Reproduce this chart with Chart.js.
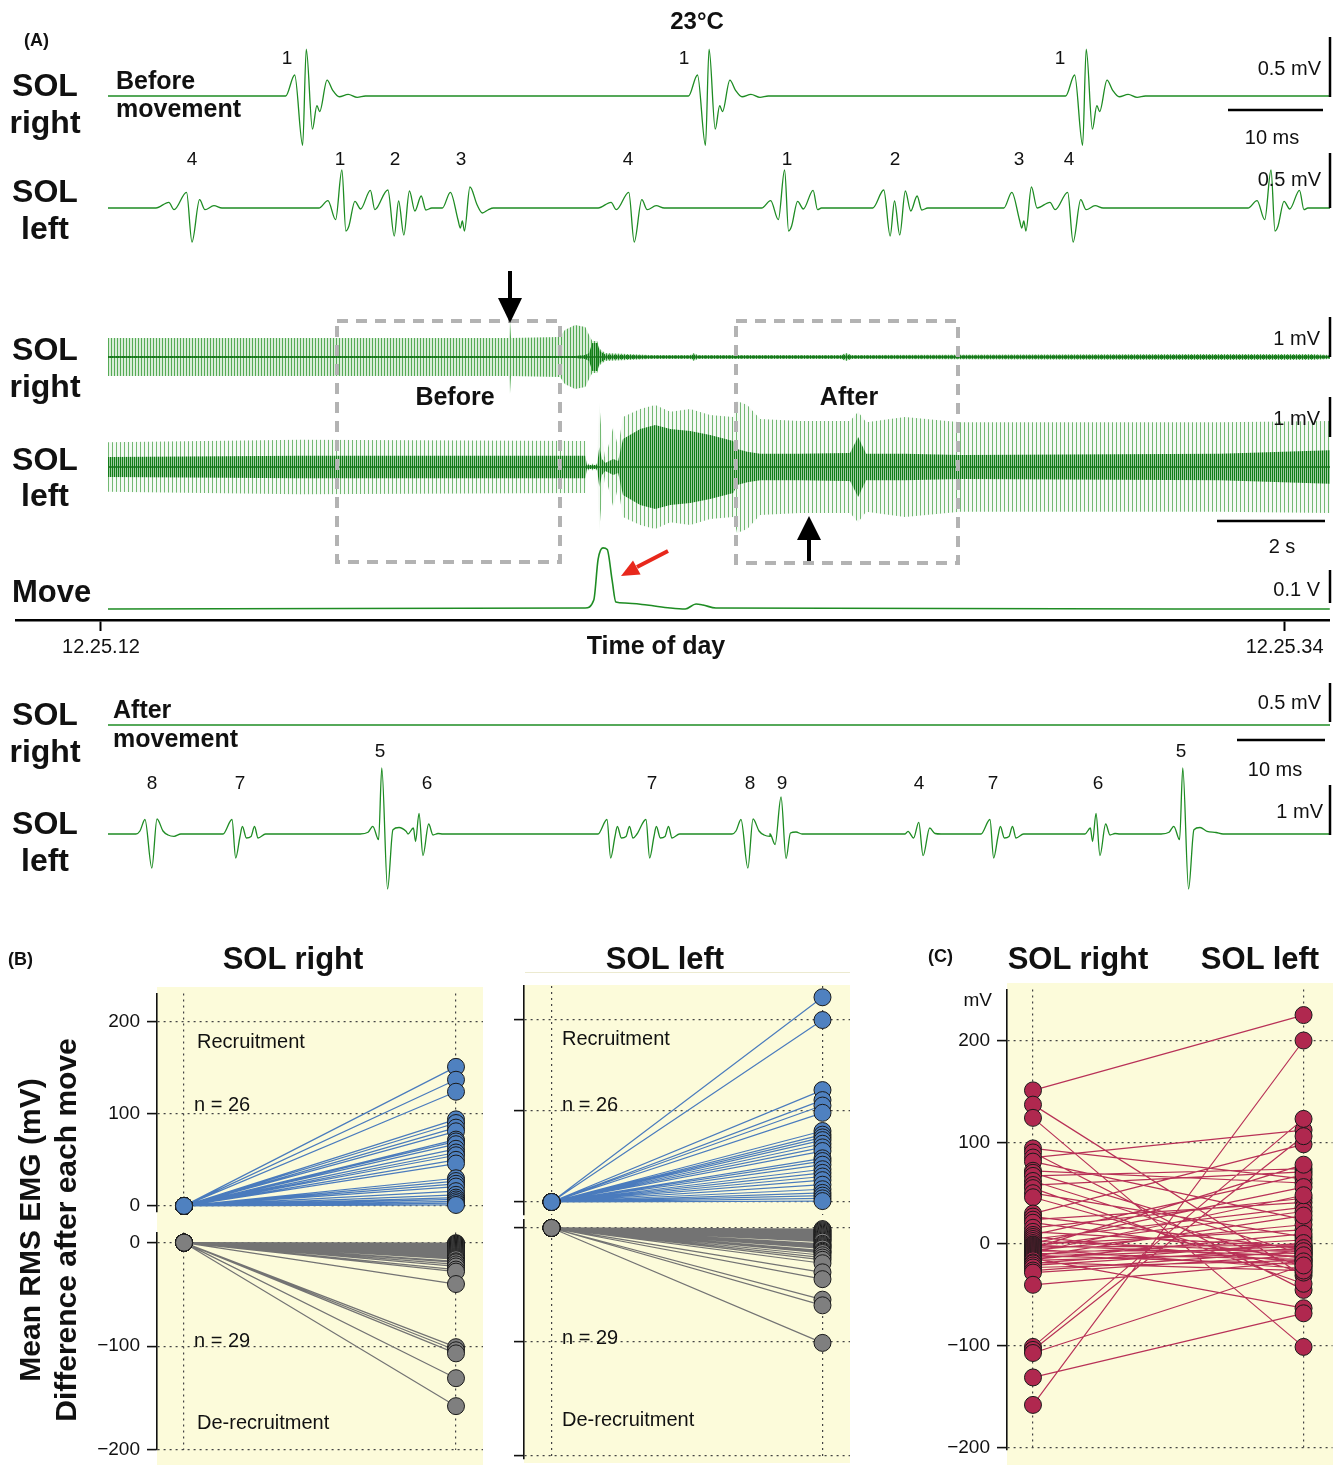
<!DOCTYPE html>
<html>
<head>
<meta charset="utf-8">
<script src="https://cdn.jsdelivr.net/npm/chart.js@4.4.1/dist/chart.umd.min.js"></script>
<style>
  html, body { margin: 0; padding: 0; background: #fff; overflow: hidden; }
  #page { position: relative; width: 1342px; height: 1469px; font-family: "Liberation Sans", Arial, sans-serif; color: #111; }
  #page canvas { position: absolute; }
  .lbl { position: absolute; white-space: nowrap; line-height: 1; z-index: 6; }
  .bg { position: absolute; background: #fcfbda; }
  svg { position: absolute; left: 0; top: 0; z-index: 5; }
</style>
</head>
<body>
<div id="page">
  <div class="bg" style="left:157px;top:987px;width:326px;height:478px"></div>
  <div class="bg" style="left:524px;top:985px;width:326px;height:478px"></div>
  <div class="bg" style="left:1007px;top:983px;width:326px;height:482px"></div>
  <div style="position:absolute;left:525px;top:972px;width:325px;height:1px;background:#ecead0"></div>
  <svg width="1342" height="1469">
    <g fill="none" stroke="#b3b3b3" stroke-width="4" stroke-dasharray="11 8">
      <rect x="337" y="321" width="223" height="241"/>
      <rect x="736" y="321" width="222" height="242"/>
    </g>
    <line x1="510" y1="271" x2="510" y2="302" stroke="#000" stroke-width="4"/>
    <polygon points="498,298 522,298 510,323" fill="#000"/>
    <line x1="809" y1="561" x2="809" y2="536" stroke="#000" stroke-width="4"/>
    <polygon points="797,540 821,540 809,516" fill="#000"/>
    <line x1="668" y1="551" x2="637" y2="567" stroke="#e8281c" stroke-width="4"/>
    <polygon points="621,576 640.6,574.4 633,560.4" fill="#e8281c"/>
    <g stroke="#000" stroke-width="2.5">
      <line x1="1330" y1="37" x2="1330" y2="97"/>
      <line x1="1228" y1="110" x2="1323" y2="110"/>
      <line x1="1330" y1="153" x2="1330" y2="208"/>
      <line x1="1330" y1="317" x2="1330" y2="357"/>
      <line x1="1330" y1="397" x2="1330" y2="437"/>
      <line x1="1217" y1="521" x2="1325" y2="521"/>
      <line x1="1330" y1="570" x2="1330" y2="603"/>
      <line x1="1330" y1="683" x2="1330" y2="722"/>
      <line x1="1237" y1="740" x2="1325" y2="740"/>
      <line x1="1330" y1="785" x2="1330" y2="835"/>
    </g>
  </svg>
</div>
<script>
// ---- Panel A: unit waveforms, [ms after onset, mV] ----
const beforeRightUnit1 = [[0,0],[0.95,0.175],[1.79,-0.41],[2.17,0.39],[2.82,-0.275],[3.29,-0.08],[3.58,-0.13],[4.36,0.133],[4.94,0.05],[5.64,-0.006],[6.58,0.014],[7.53,-0.011],[8.4,0]];
const beforeRightFirings = [[18.7,1],[61.1,1],[100.8,1]];

const beforeLeftUnit1 = [[0,0],[0.95,0.073],[1.76,-0.117],[2.42,0.38],[2.84,-0.23],[3.16,-0.18],[3.79,0.067],[4.39,-0.01],[5.42,0.177],[5.89,-0.017],[6.3,0]];
const beforeLeftUnit2 = [[0,0],[1.16,0.18],[1.83,-0.28],[2.29,0.07],[2.84,-0.27],[3.43,0.17],[4.0,-0.03],[4.67,0.12],[5.16,-0.02],[5.79,0]];
const beforeLeftUnit3 = [[0,0],[0.84,0.157],[1.64,-0.117],[1.89,-0.2],[2.1,-0.13],[2.32,-0.23],[2.9,0.21],[3.66,0.03],[4.21,-0.05],[4.79,-0.02],[5.37,0]];
const beforeLeftUnit4 = [[0,0],[1.35,0.057],[1.9,-0.017],[3.22,0.157],[3.79,-0.34],[4.59,0.083],[5.16,-0.017],[6.1,0.023],[6.95,0]];
const beforeLeftFirings = [[5.05,4],[22.2,1],[28.3,2],[35.2,3],[51.6,4],[68.8,1],[80.5,2],[94.3,3],[97.8,4],[120.0,1]];

const afterLeftUnit4 = [[0,0],[0.34,0.054],[0.97,-0.08],[1.56,0.234],[2.05,-0.434],[2.8,0.12],[3.41,0.01],[4.09,0]];
const afterLeftUnit5 = [[0,0],[0.91,0.034],[1.45,0.154],[2.11,-0.114],[2.47,1.32],[3.13,-1.1],[3.74,0.086],[4.43,0.13],[5.23,0.054],[6.25,0.03],[7.05,0]];
const afterLeftUnit6 = [[0,0],[0.61,0.12],[0.86,-0.15],[1.25,0.41],[1.7,-0.43],[2.35,0.2],[2.84,-0.02],[3.41,0.01],[3.98,0]];
const afterLeftUnit7 = [[0,0],[1.02,0.29],[1.44,-0.48],[1.93,-0.05],[2.2,0.15],[2.66,-0.08],[3.18,-0.05],[3.58,0.15],[3.98,-0.08],[4.84,0]];
const afterLeftUnit8 = [[0,0],[0.45,0.06],[1.02,0.29],[1.8,-0.68],[2.39,0.3],[3.07,0.06],[3.64,-0.02],[4.32,-0.046],[5.1,0]];
const afterLeftUnit9 = [[0,0],[0.57,-0.21],[1.25,0.74],[1.82,-0.49],[2.32,0.02],[2.95,0.04],[3.64,0]];
const afterLeftFirings = [[3.18,8],[13.07,7],[28.64,5],[34.09,6],[55.68,7],[60.11,7],[70.91,8],[75.23,9],[90.57,4],[99.2,7],[111.02,6],[119.66,5]];
const afterRightFirings = [];

// ---- Panel A: 22 s recording, envelope of the EMG (s, mV) ----
const denseRightTimes = [0.13,3.70,7.51,7.58,7.60,7.62,8.53,8.62,8.81,9.00,9.07,9.13,9.22,9.27,9.37,10.20,10.95,11.02,11.09,13.74,13.85,13.96,20.61,22.51,22.84];
const denseRightSpikes = [0.38,0.38,0.38,0.38,0.74,0.38,0.40,0.54,0.64,0.60,0.44,0.32,0.32,0.16,0.08,0.04,0.04,0.08,0.04,0.04,0.08,0.04,0.06,0.06,0.04];
const denseRightCore = [0.02,0.02,0.02,0.02,0.02,0.02,0.02,0.02,0.02,0.04,0.08,0.28,0.28,0.12,0.05,0.03,0.03,0.05,0.03,0.03,0.05,0.03,0.04,0.04,0.03];

const denseLeftTimes = [0.13,3.70,9.00,9.03,9.22,9.26,9.31,9.37,9.52,9.61,9.70,10.02,10.30,10.58,10.95,11.32,11.75,11.82,12.01,12.25,12.99,13.92,14.07,14.22,14.94,15.97,20.80,22.84];
const denseLeftSpikes = [0.62,0.68,0.65,0.08,0.08,1.60,0.75,0.20,1.00,0.50,1.25,1.45,1.55,1.38,1.45,1.30,1.25,1.65,1.55,1.20,1.15,1.15,1.38,1.12,1.25,1.12,1.12,1.15];
const denseLeftCore = [0.25,0.28,0.28,0.05,0.05,0.50,0.20,0.10,0.20,0.15,0.70,0.95,1.05,0.95,0.90,0.80,0.65,0.45,0.38,0.33,0.33,0.35,0.75,0.33,0.33,0.30,0.33,0.42];

const moveTimes = [0.13,9.00,9.16,9.24,9.33,9.41,9.50,9.57,9.74,10.15,10.58,10.86,11.06,11.19,11.43,22.84];
const moveVolts = [0,0.003,0.027,0.15,0.185,0.18,0.088,0.021,0.018,0.012,0.003,0,0.015,0.012,0.003,0];
const timeTickValues = [0, 22];
const timeTickLabels = ['12.25.12', '12.25.34'];

// ---- Panel B / C: mean RMS EMG difference (mV) ----
const bRightUp = [151,137,124,94,90,85,81,72,70,67,62,58,55,50,46,30,27,24,21,16,12,9,7,5,3,1];
const bRightDown = [-0.5,-1,-2,-3,-4,-5,-6,-7,-8,-9,-10,-11,-12,-13,-14,-15,-16,-18,-19,-21,-23,-26,-28,-40,-101,-104,-107,-131,-158];
const bLeftUp = [225,200,123,112,106,98,78,74,71,68,64,60,56,48,45,41,36,32,28,24,19,14,10,7,4,1];
const bLeftDown = [-1,-2,-3,-4,-5,-6,-7,-8,-9,-10,-11,-12,-14,-15,-16,-17,-18,-20,-21,-22,-24,-26,-28,-31,-39,-45,-63,-68,-101];
const cSolRight = [151,137,124,94,90,85,81,72,70,67,62,58,55,50,46,30,27,24,21,16,12,9,7,5,3,1,-0.5,-1,-2,-3,-4,-5,-6,-7,-8,-9,-10,-11,-12,-13,-14,-15,-16,-18,-19,-21,-23,-26,-28,-40,-101,-104,-107,-131,-158];
const cSolLeft = [225,-31,-101,64,-45,112,24,60,-10,74,-22,71,-39,7,-28,98,-5,41,-14,45,-3,68,-18,36,-8,56,14,-12,32,-1,78,-24,19,-6,48,-15,4,-20,28,-2,-63,10,-9,-26,1,-4,-16,-7,-11,-17,123,106,-21,-68,200];
const upTicks = [0, 100, 200];
const downTicks = [0, -100, -200];
const cTicks = [-200, -100, 0, 100, 200];
const columnTicks = [0, 1];

const GREEN = '#1e8c23';
const page = document.getElementById('page');
Chart.defaults.font.family = '"Liberation Sans", Arial, sans-serif';
Chart.defaults.color = '#111';

function makeCanvas(left, top, w, h) {
  const c = document.createElement('canvas');
  c.width = w; c.height = h;
  c.style.left = left + 'px'; c.style.top = top + 'px';
  c.style.width = w + 'px'; c.style.height = h + 'px';
  page.appendChild(c);
  return c.getContext('2d');
}

function label(text, x, y, size, opts = {}) {
  const d = document.createElement('div');
  d.className = 'lbl';
  d.textContent = text;
  d.style.left = x + 'px';
  d.style.top = y + 'px';
  d.style.fontSize = size + 'px';
  if (opts.bold) d.style.fontWeight = 'bold';
  const ax = opts.align === 'center' ? '-50%' : opts.align === 'right' ? '-100%' : '0';
  d.style.transform = 'translate(' + ax + ', -50%)' + (opts.rotate ? ' rotate(-90deg)' : '');
  page.appendChild(d);
}

// put each unit's waveform at its firing time, cut where the next one starts
function buildTrace(firings, shapes, end) {
  const pts = [{x: 0, y: 0}];
  firings.forEach(([t0, unit], i) => {
    const next = i + 1 < firings.length ? firings[i + 1][0] : end;
    shapes[unit].forEach(([dt, v]) => {
      if (t0 + dt < next) pts.push({x: t0 + dt, y: v});
    });
  });
  pts.push({x: end, y: 0});
  return pts;
}

const quiet = {legend: {display: false}, tooltip: {enabled: false}};

function traceChart(box, points, xMin, xMax, yMin, yMax) {
  const ctx = makeCanvas(box[0], box[1], box[2], box[3]);
  new Chart(ctx, {
    type: 'line',
    data: {datasets: [{data: points, borderColor: GREEN, borderWidth: 1.3, pointRadius: 0,
      cubicInterpolationMode: 'monotone', fill: false}]},
    options: {
      responsive: false, animation: false, events: [],
      layout: {padding: 0}, plugins: quiet,
      scales: {
        x: {type: 'linear', display: false, min: xMin, max: xMax},
        y: {display: false, min: yMin, max: yMax}
      }
    }
  });
}

// vertical hatch patterns that stand in for the individual spikes
function hatch(period, line, back) {
  const pc = document.createElement('canvas');
  pc.width = period; pc.height = 1;
  const g = pc.getContext('2d');
  g.fillStyle = back;
  g.fillRect(0, 0, period, 1);
  g.fillStyle = line;
  g.fillRect(0, 0, 1, 1);
  return g.createPattern(pc, 'repeat');
}
const rightHatch = hatch(3, 'rgba(35,145,35,0.72)', 'rgba(60,160,60,0.20)');
const leftHatch = hatch(4, 'rgba(35,145,35,0.62)', 'rgba(60,160,60,0.06)');
const coreHatch = hatch(2, 'rgba(12,122,18,0.95)', 'rgba(30,135,35,0.40)');

function denseChart(box, times, spikes, core, outerFill, yMin, yMax) {
  const ctx = makeCanvas(box[0], box[1], box[2], box[3]);
  const up = arr => times.map((t, i) => ({x: t, y: arr[i]}));
  const down = arr => times.map((t, i) => ({x: t, y: -arr[i]}));
  const clear = 'rgba(0,0,0,0)';
  const env = {borderColor: clear, borderWidth: 0, pointRadius: 0, tension: 0};
  new Chart(ctx, {
    type: 'line',
    data: {datasets: [
      {data: [{x: times[0], y: 0}, {x: times[times.length - 1], y: 0}], borderColor: '#16741a', borderWidth: 1.4, pointRadius: 0, fill: false},
      Object.assign({data: up(core), fill: '+1', backgroundColor: coreHatch}, env),
      Object.assign({data: down(core), fill: false}, env),
      Object.assign({data: up(spikes), fill: '+1', backgroundColor: outerFill}, env),
      Object.assign({data: down(spikes), fill: false}, env)
    ]},
    options: {
      responsive: false, animation: false, events: [],
      layout: {padding: 0}, plugins: quiet,
      scales: {
        x: {type: 'linear', display: false, min: 0.13, max: 22.84},
        y: {display: false, min: yMin, max: yMax}
      }
    }
  });
}

// ---- panel A charts ----
traceChart([108, 30, 1222, 130], buildTrace(beforeRightFirings, {1: beforeRightUnit1}, 128.63), 0, 128.63, -0.533, 0.55);
traceChart([108, 150, 1222, 110], buildTrace(beforeLeftFirings,
  {1: beforeLeftUnit1, 2: beforeLeftUnit2, 3: beforeLeftUnit3, 4: beforeLeftUnit4}, 128.63), 0, 128.63, -0.52, 0.58);
denseChart([108, 300, 1222, 110], denseRightTimes, denseRightSpikes, denseRightCore, rightHatch, -1.06, 1.14);
denseChart([108, 395, 1222, 150], denseLeftTimes, denseLeftSpikes, denseLeftCore, leftHatch, -1.95, 1.8);
traceChart([108, 700, 1222, 50], buildTrace(afterRightFirings, {}, 138.86), 0, 138.86, -0.32, 0.32);
traceChart([108, 750, 1222, 150], buildTrace(afterLeftFirings,
  {4: afterLeftUnit4, 5: afterLeftUnit5, 6: afterLeftUnit6, 7: afterLeftUnit7, 8: afterLeftUnit8, 9: afterLeftUnit9}, 138.86), 0, 138.86, -1.32, 1.68);

// movement sensor with the time-of-day axis
new Chart(makeCanvas(15, 530, 1315, 135), {
  type: 'line',
  data: {datasets: [{data: moveTimes.map((t, i) => ({x: t, y: moveVolts[i]})), borderColor: GREEN,
    borderWidth: 1.6, pointRadius: 0, cubicInterpolationMode: 'monotone', fill: false}]},
  options: {
    responsive: false, animation: false, events: [],
    layout: {padding: 0}, plugins: quiet,
    scales: {
      x: {
        type: 'linear', min: -1.598, max: 22.844,
        afterBuildTicks: s => { s.ticks = timeTickValues.map(v => ({value: v})); },
        afterFit: s => { s.height = 45; },
        ticks: {font: {size: 20}, color: '#111', padding: 4, maxRotation: 0,
          callback: (v, i) => timeTickLabels[i]},
        grid: {drawOnChartArea: false, drawTicks: true, tickLength: 11, tickColor: '#000', tickWidth: 2},
        border: {display: true, color: '#000', width: 2.5}
      },
      y: {display: false, min: -0.0333, max: 0.239}
    }
  }
});

// ---- panel B / C slope charts ----
function slopeChart(box, starts, ends, sc) {
  const ctx = makeCanvas(box.left, box.top, box.width, box.height);
  const lines = [];
  const dots = [];
  starts.forEach((a, i) => {
    lines.push({x: 0, y: a}, {x: 1, y: ends[i]}, {x: 1, y: null});
    dots.push({x: 0, y: a}, {x: 1, y: ends[i]});
  });
  new Chart(ctx, {
    type: 'line',
    data: {datasets: [
      {data: lines, borderColor: sc.line, borderWidth: 1.2, pointRadius: 0, spanGaps: false, order: 2, clip: false},
      {data: dots, showLine: false, pointRadius: 8.5, pointBackgroundColor: sc.fill,
        pointBorderColor: '#1a1a1a', pointBorderWidth: 1, order: 1, clip: false}
    ]},
    options: {
      responsive: false, animation: false, events: [],
      layout: {padding: {top: box.padTop, bottom: box.padBottom, right: box.padRight, left: 0}},
      plugins: quiet,
      scales: {
        x: {
          type: 'linear', min: sc.xMin, max: sc.xMax,
          afterBuildTicks: s => { s.ticks = columnTicks.map(v => ({value: v})); },
          afterFit: s => { s.height = 0; },
          ticks: {display: false},
          grid: {color: '#444', lineWidth: 1.2, drawTicks: false},
          border: {display: false, dash: [2, 4]}
        },
        y: {
          type: 'linear', min: sc.yMin, max: sc.yMax,
          afterBuildTicks: s => { s.ticks = sc.ticks.map(v => ({value: v})); },
          afterFit: s => { s.width = box.axis; },
          ticks: {display: sc.labels, color: '#111', font: {size: 19}, padding: 7,
            callback: v => String(v).replace('-', '\u2212')},
          grid: {color: '#444', lineWidth: 1.2, drawTicks: true, tickLength: 10,
            tickColor: '#111', tickWidth: 1.6, tickBorderDash: []},
          border: {display: true, color: '#111', width: 1.6, dash: [2, 4]}
        }
      }
    }
  });
}

const BLUE = {line: '#4a7bbd', fill: '#4f81c0'};
const GREY = {line: '#737373', fill: '#7f7f7f'};
const zeros = arr => arr.map(() => 0);

slopeChart({left: 90, top: 975, width: 405, height: 255, axis: 67, padTop: 12, padBottom: 12, padRight: 12},
  zeros(bRightUp), bRightUp, Object.assign({xMin: -0.0993, xMax: 1.0993, yMin: -6.2, yMax: 230.8, ticks: upTicks, labels: true}, BLUE));
slopeChart({left: 90, top: 1214, width: 405, height: 254, axis: 67, padTop: 12, padBottom: 8, padRight: 12},
  zeros(bRightDown), bRightDown, Object.assign({xMin: -0.0993, xMax: 1.0993, yMin: -200, yMax: 9.9, ticks: downTicks, labels: true}, GREY));
slopeChart({left: 500, top: 974, width: 362, height: 253, axis: 24, padTop: 12, padBottom: 12, padRight: 12},
  zeros(bLeftUp), bLeftUp, Object.assign({xMin: -0.1015, xMax: 1.1015, yMin: -14.3, yMax: 237.4, ticks: upTicks, labels: false}, BLUE));
slopeChart({left: 500, top: 1208, width: 362, height: 260, axis: 24, padTop: 12, padBottom: 8, padRight: 12},
  zeros(bLeftDown), bLeftDown, Object.assign({xMin: -0.1015, xMax: 1.1015, yMin: -202.6, yMax: 7, ticks: downTicks, labels: false}, GREY));
slopeChart({left: 930, top: 971, width: 412, height: 497, axis: 77, padTop: 12, padBottom: 8, padRight: 9},
  cSolRight, cSolLeft, {xMin: -0.096, xMax: 1.107, yMin: -201.9, yMax: 250.2, ticks: cTicks, labels: true, line: '#b83157', fill: '#b0284f'});

// ---- text ----
const B = {bold: true};
const BC = {bold: true, align: 'center'};
label('(A)', 24, 40, 18, B);
label('23°C', 697, 21, 24, BC);
[['SOL', 85], ['right', 122], ['SOL', 191], ['left', 228], ['SOL', 349], ['right', 386],
 ['SOL', 459], ['left', 495], ['SOL', 714], ['right', 751], ['SOL', 823], ['left', 860]]
  .forEach(([t, y]) => label(t, 45, y, 32, BC));
label('Move', 12, 591, 31, B);
label('Before', 116, 80, 25, B);
label('movement', 116, 108, 25, B);
label('After', 113, 709, 25, B);
label('movement', 113, 738, 25, B);
label('Before', 455, 396, 25, BC);
label('After', 849, 396, 25, BC);
label('Time of day', 656, 645, 25, BC);
[['0.5 mV', 1321, 68, 'right'], ['10 ms', 1272, 137, 'center'], ['0.5 mV', 1321, 179, 'right'],
 ['1 mV', 1320, 338, 'right'], ['1 mV', 1320, 418, 'right'], ['2 s', 1282, 546, 'center'],
 ['0.1 V', 1320, 589, 'right'], ['0.5 mV', 1321, 702, 'right'], ['10 ms', 1275, 769, 'center'],
 ['1 mV', 1323, 811, 'right']].forEach(([t, x, y, a]) => label(t, x, y, 20, {align: a}));
[['1', 287, 57], ['1', 684, 57], ['1', 1060, 57],
 ['4', 192, 158], ['1', 340, 158], ['2', 395, 158], ['3', 461, 158], ['4', 628, 158],
 ['1', 787, 158], ['2', 895, 158], ['3', 1019, 158], ['4', 1069, 158],
 ['5', 380, 750], ['5', 1181, 750],
 ['8', 152, 782], ['7', 240, 782], ['6', 427, 782], ['7', 652, 782], ['8', 750, 782],
 ['9', 782, 782], ['4', 919, 782], ['7', 993, 782], ['6', 1098, 782]]
  .forEach(([t, x, y]) => label(t, x, y, 19, {align: 'center'}));

label('(B)', 8, 959, 18, B);
label('SOL right', 293, 958, 31, BC);
label('SOL left', 665, 958, 31, BC);
label('(C)', 928, 956, 18, B);
label('SOL right', 1078, 958, 31, BC);
label('SOL left', 1260, 958, 31, BC);
label('mV', 992, 999, 19, {align: 'right'});
label('Mean RMS EMG (mV)', 30, 1230, 30, {bold: true, align: 'center', rotate: true});
label('Difference after each move', 66, 1230, 30, {bold: true, align: 'center', rotate: true});
[[197, 1041, 'Recruitment'], [194, 1104, 'n = 26'], [194, 1340, 'n = 29'], [197, 1422, 'De-recruitment'],
 [562, 1038, 'Recruitment'], [562, 1104, 'n = 26'], [562, 1337, 'n = 29'], [562, 1419, 'De-recruitment']]
  .forEach(([x, y, t]) => label(t, x, y, 20));
</script>
</body>
</html>
